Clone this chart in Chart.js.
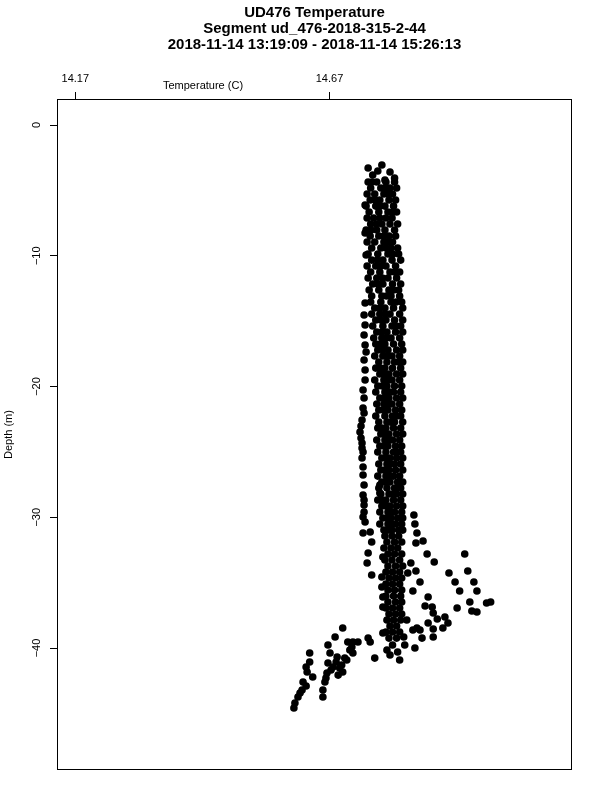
<!DOCTYPE html>
<html>
<head>
<meta charset="utf-8">
<script src="https://cdn.jsdelivr.net/npm/chart.js@4.4.1/dist/chart.umd.min.js"></script>
<style>body{margin:0;background:#fff}</style>
</head>
<body>
<canvas id="grafica" width="600" height="800"></canvas>
<script>
// textos
const titulos = ["UD476 Temperature", "Segment ud_476-2018-315-2-44", "2018-11-14 13:19:09 - 2018-11-14 15:26:13"];
const tituloX = "Temperature (C)";
const tituloY = "Depth (m)";

// ejes
const xTicks = [14.17, 14.67];
const yTicks = [0, -10, -20, -30, -40];
const xMin = 14.134, xMax = 15.147;
const yMin = -49.33, yMax = 1.99;

// puntos sueltos arriba de la columna
const arribaTemp = [14.746, 14.773, 14.789, 14.755, 14.779, 14.765, 14.798, 14.740, 14.740, 14.742];
const arribaDepth = [-3.29, -3.06, -3.59, -3.82, -4.21, -3.52, -4.05, -6.12, -8.26, -9.94];

// columna principal: una profundidad y varias temperaturas por fila
const colDepth = [
  -4.36, -4.82, -5.28, -5.74, -6.20, -6.65, -7.11, -7.57, -8.03, -8.49, -8.95, -9.41,
  -9.87, -10.33, -10.78, -11.24, -11.70, -12.16, -12.62, -13.08,
  -13.54, -14.00, -14.46, -14.91, -15.37, -15.83, -16.29,
  -16.75, -17.21, -17.67, -18.13, -18.59, -19.04, -19.50, -19.96, -20.42, -20.88, -21.34, -21.80, -22.26,
  -22.72, -23.17, -23.63, -24.09, -24.55, -25.01, -25.47, -25.93, -26.39, -26.85, -27.30, -27.76, -28.22, -28.68, -29.14, -29.60, -30.06, -30.52, -30.98,
  -31.43, -31.89, -32.35, -32.81, -33.27, -33.73, -34.19, -34.65, -35.11, -35.56, -36.02,
  -36.48, -36.94, -37.40, -37.86, -38.32, -38.78, -39.24
];
const colTemp = [
  [14.746, 14.754, 14.763, 14.781, 14.798], [14.751, 14.771, 14.780, 14.789, 14.802], [14.744, 14.759, 14.777, 14.786, 14.794],
  [14.750, 14.760, 14.769, 14.787, 14.800], [14.742, 14.761, 14.770, 14.779, 14.796], [14.748, 14.767, 14.785, 14.794, 14.802],
  [14.744, 14.757, 14.769, 14.781, 14.793], [14.751, 14.762, 14.773, 14.789, 14.804], [14.742, 14.752, 14.763, 14.779, 14.798],
  [14.750, 14.767, 14.777, 14.787, 14.800], [14.744, 14.759, 14.777, 14.786, 14.794], [14.753, 14.771, 14.781, 14.791, 14.804],
  [14.746, 14.765, 14.785, 14.795, 14.806], [14.753, 14.764, 14.775, 14.793, 14.810], [14.744, 14.761, 14.771, 14.781, 14.800],
  [14.751, 14.769, 14.789, 14.798, 14.808], [14.746, 14.763, 14.774, 14.785, 14.802], [14.755, 14.765, 14.775, 14.794, 14.810],
  [14.748, 14.767, 14.787, 14.796, 14.806], [14.753, 14.773, 14.782, 14.791, 14.808],
  [14.751, 14.771, 14.791, 14.801, 14.812], [14.759, 14.769, 14.779, 14.796, 14.814], [14.753, 14.769, 14.779, 14.789, 14.808],
  [14.761, 14.771, 14.781, 14.798, 14.814], [14.755, 14.775, 14.793, 14.801, 14.810], [14.763, 14.773, 14.783, 14.800, 14.814],
  [14.757, 14.773, 14.782, 14.791, 14.808],
  [14.761, 14.770, 14.779, 14.796, 14.812], [14.765, 14.775, 14.785, 14.802, 14.814], [14.759, 14.775, 14.784, 14.793, 14.808],
  [14.767, 14.783, 14.798, 14.806, 14.814], [14.761, 14.770, 14.779, 14.794, 14.810], [14.769, 14.778, 14.787, 14.802, 14.814],
  [14.759, 14.777, 14.785, 14.793, 14.808], [14.765, 14.774, 14.783, 14.798, 14.812], [14.761, 14.779, 14.788, 14.796, 14.810],
  [14.769, 14.778, 14.787, 14.802, 14.814], [14.763, 14.777, 14.785, 14.793, 14.808], [14.767, 14.776, 14.785, 14.800, 14.812],
  [14.761, 14.779, 14.794, 14.802, 14.810],
  [14.767, 14.783, 14.790, 14.798, 14.814], [14.765, 14.773, 14.781, 14.796, 14.810], [14.771, 14.779, 14.787, 14.802, 14.814],
  [14.763, 14.779, 14.787, 14.794, 14.808], [14.769, 14.777, 14.785, 14.800, 14.812], [14.765, 14.781, 14.796, 14.803, 14.810],
  [14.773, 14.781, 14.789, 14.802, 14.814], [14.767, 14.783, 14.790, 14.798, 14.810], [14.771, 14.779, 14.787, 14.800, 14.814],
  [14.765, 14.781, 14.788, 14.796, 14.808], [14.773, 14.781, 14.789, 14.804, 14.814], [14.767, 14.783, 14.798, 14.804, 14.810],
  [14.771, 14.787, 14.794, 14.802, 14.814], [14.765, 14.773, 14.781, 14.796, 14.810], [14.773, 14.781, 14.789, 14.802, 14.814],
  [14.769, 14.785, 14.792, 14.798, 14.812], [14.775, 14.783, 14.791, 14.804, 14.814], [14.769, 14.785, 14.793, 14.800, 14.812],
  [14.777, 14.785, 14.793, 14.806, 14.814],
  [14.779, 14.793, 14.806], [14.783, 14.798, 14.812], [14.777, 14.791, 14.804], [14.785, 14.798, 14.812],
  [14.779, 14.793, 14.808], [14.785, 14.800, 14.814], [14.781, 14.794, 14.808], [14.787, 14.800, 14.812],
  [14.781, 14.794, 14.808], [14.785, 14.798, 14.812], [14.781, 14.796, 14.810],
  [14.785, 14.800, 14.812], [14.781, 14.794, 14.808], [14.787, 14.800, 14.812], [14.783, 14.796, 14.810],
  [14.789, 14.802], [14.781, 14.794, 14.808], [14.787, 14.802]
];

// rastro de puntos a la izquierda de la columna
const rastroTemp = [14.740, 14.738, 14.740, 14.738, 14.740, 14.742, 14.738, 14.740, 14.740, 14.736, 14.738,
  14.736, 14.738, 14.734, 14.732, 14.730, 14.732, 14.734, 14.734, 14.736, 14.734, 14.736, 14.736, 14.738,
  14.736, 14.738, 14.738, 14.738, 14.736, 14.740, 14.736, 14.750, 14.753, 14.746, 14.744, 14.753, 14.773,
  14.775, 14.773, 14.775, 14.775, 14.769, 14.769];
const rastroDepth = [-13.61, -14.53, -15.30, -16.06, -16.83, -17.36, -17.97, -18.74, -19.50, -20.27, -20.88,
  -21.64, -22.03, -22.56, -23.02, -23.48, -23.94, -24.32, -24.70, -25.01, -25.47, -26.16, -26.77, -27.53,
  -28.30, -28.68, -29.06, -29.60, -29.98, -30.36, -31.20, -31.13, -31.89, -32.73, -33.50, -34.42, -34.57,
  -33.04, -35.33, -36.10, -36.86, -27.53, -28.15];

// rama hacia la derecha
const ramaTemp = [14.836, 14.838, 14.842, 14.840, 14.854, 14.862, 14.876, 14.830, 14.824, 14.840, 14.848,
  14.834, 14.936, 14.942, 14.905, 14.917, 14.954, 14.926, 14.960, 14.864, 14.946, 14.979, 14.987, 14.858,
  14.872, 14.921, 14.950, 14.960, 14.874, 14.897, 14.903, 14.882, 14.864, 14.822, 14.842, 14.848, 14.874,
  14.893, 14.852, 14.874, 14.816, 14.838, 14.834];
const ramaDepth = [-29.83, -30.52, -31.20, -31.97, -31.82, -32.81, -33.42, -33.50, -34.26, -34.11, -34.95,
  -35.64, -32.81, -34.11, -34.26, -34.95, -34.95, -35.64, -35.64, -36.10, -36.48, -36.56, -36.48, -36.79,
  -36.86, -36.94, -37.17, -37.25, -37.32, -37.63, -38.09, -37.78, -38.09, -37.86, -38.47, -38.62, -38.55,
  -38.47, -39.24, -39.16, -39.16, -40.00, -38.62];

// grupo del fondo
const fondoTemp = [14.696, 14.681, 14.667, 14.706, 14.716, 14.726, 14.746, 14.750, 14.631, 14.716, 14.759,
  14.808, 14.783, 14.789, 14.794, 14.818, 14.775, 14.804,
  14.631, 14.626, 14.618, 14.616, 14.608, 14.602, 14.600, 14.637, 14.624, 14.612, 14.624,
  14.671, 14.667, 14.665, 14.661, 14.657, 14.657, 14.677, 14.685, 14.694, 14.704, 14.696, 14.687, 14.710,
  14.714, 14.663, 14.673, 14.683, 14.690, 14.700];
const fondoDepth = [-38.47, -39.16, -39.77, -39.54, -39.54, -39.54, -39.24, -39.54, -40.38, -40.38, -40.77,
  -40.92, -40.15, -40.54, -39.77, -39.77, -38.85, -40.31,
  -41.07, -41.84, -42.60, -43.21, -43.75, -44.21, -44.59, -42.22, -41.45, -43.44, -42.91,
  -40.38, -41.15, -41.91, -42.60, -43.21, -43.75, -41.45, -40.69, -41.30, -40.92, -41.84, -42.07, -40.15,
  -39.92, -42.30, -41.68, -41.07, -41.53, -40.77];

function armarPuntos() {
  const puntos = [];
  arribaTemp.forEach((t, i) => puntos.push({ x: t, y: arribaDepth[i] }));
  colDepth.forEach((d, i) => {
    colTemp[i].forEach(t => puntos.push({ x: t, y: d }));
  });
  rastroTemp.forEach((t, i) => puntos.push({ x: t, y: rastroDepth[i] }));
  ramaTemp.forEach((t, i) => puntos.push({ x: t, y: ramaDepth[i] }));
  fondoTemp.forEach((t, i) => puntos.push({ x: t, y: fondoDepth[i] }));
  return puntos;
}

const fuente = '"Liberation Sans", Arial, sans-serif';

// caja, titulos y etiquetas giradas al estilo de R
const marcoYTextos = {
  id: "marcoYTextos",
  afterDraw(chart) {
    const ctx = chart.ctx;
    const area = chart.chartArea;
    const escalaY = chart.scales.y;
    const centroX = (area.left + area.right) / 2;
    ctx.save();
    ctx.strokeStyle = "#000";
    ctx.lineWidth = 1;
    ctx.strokeRect(area.left + 0.5, area.top + 0.5, area.right - area.left - 1, area.bottom - area.top - 1);

    ctx.fillStyle = "#000";
    ctx.textAlign = "center";
    ctx.textBaseline = "middle";
    ctx.font = "bold 15px " + fuente;
    titulos.forEach((t, i) => ctx.fillText(t, centroX, 13 + i * 16));

    ctx.font = "11px " + fuente;
    ctx.fillText(tituloX, 203, 86);

    yTicks.forEach(v => {
      ctx.save();
      ctx.translate(37, escalaY.getPixelForValue(v));
      ctx.rotate(-Math.PI / 2);
      ctx.fillText(v < 0 ? "\u2212" + Math.abs(v) : String(v), 0, 0);
      ctx.restore();
    });

    ctx.translate(9, (area.top + area.bottom) / 2);
    ctx.rotate(-Math.PI / 2);
    ctx.fillText(tituloY, 0, 0);
    ctx.restore();
  }
};

document.addEventListener("DOMContentLoaded", function() {
  const ctx = document.getElementById("grafica").getContext("2d");
  new Chart(ctx, {
    type: "scatter",
    data: {
      datasets: [{
        data: armarPuntos(),
        backgroundColor: "#000",
        borderWidth: 0,
        pointRadius: 3.8,
        pointHoverRadius: 3.8
      }]
    },
    options: {
      responsive: false,
      animation: false,
      events: [],
      layout: { padding: { left: 0, top: 0, right: 28, bottom: 30 } },
      plugins: { legend: { display: false }, title: { display: false }, tooltip: { enabled: false } },
      scales: {
        x: {
          type: "linear",
          position: "top",
          min: xMin,
          max: xMax,
          afterBuildTicks: s => { s.ticks = xTicks.map(v => ({ value: v })); },
          afterFit: s => { s.height = 99; },
          ticks: {
            callback: v => v.toFixed(2),
            color: "#000",
            font: { family: fuente, size: 11 },
            padding: 6,
            maxRotation: 0,
            autoSkip: false
          },
          grid: { drawOnChartArea: false, drawTicks: true, tickLength: 7, color: "#000" },
          border: { display: false }
        },
        y: {
          type: "linear",
          min: yMin,
          max: yMax,
          afterBuildTicks: s => { s.ticks = yTicks.map(v => ({ value: v })); },
          afterFit: s => { s.width = 57; },
          ticks: { display: false },
          grid: { drawOnChartArea: false, drawTicks: true, tickLength: 7, color: "#000" },
          border: { display: false }
        }
      }
    },
    plugins: [marcoYTextos]
  });
});
</script>
</body>
</html>
